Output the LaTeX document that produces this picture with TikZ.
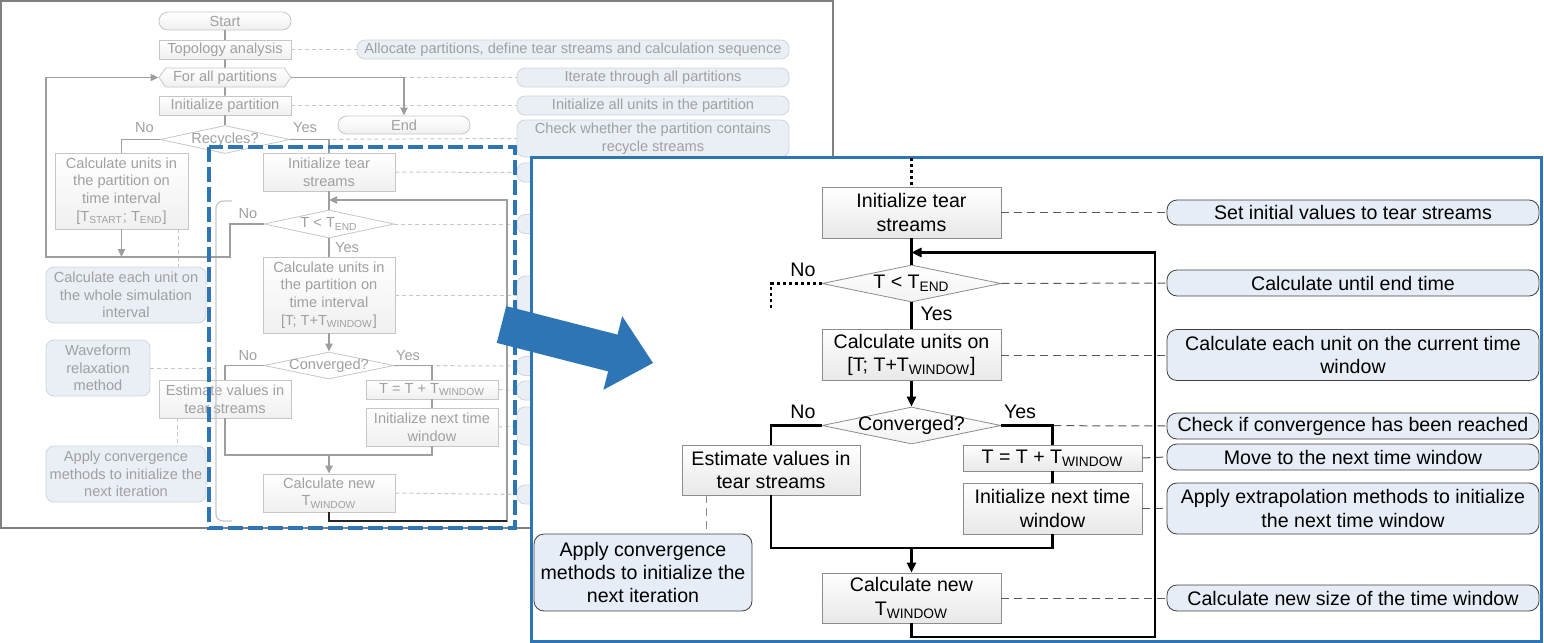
\documentclass[tikz,border=0pt]{standalone}
\usepackage{fontspec}
\setmainfont{Liberation Sans}
\usepackage{tikz}
\usetikzlibrary{calc}
\usetikzlibrary{arrows.meta}
\usetikzlibrary{shapes.geometric}
\usetikzlibrary{shapes.symbols}

\definecolor{tiblue}{RGB}{46,117,182}
\definecolor{notefill}{RGB}{231,237,247}
\definecolor{notedraw}{RGB}{64,64,64}
\definecolor{fadefill}{RGB}{234,238,245}
\definecolor{fadedraw}{RGB}{208,212,222}
\definecolor{fadetext}{RGB}{160,160,160}
\definecolor{fadeline}{RGB}{158,158,158}
\definecolor{fadebox}{RGB}{198,198,198}

\newcommand{\sbs}[1]{\textsubscript{#1}}

\tikzset{
  proc/.style={rectangle,draw=black!45,top color=white,bottom color=black!9,inner sep=0pt,align=center,minimum width=89.5pt,font=\fontsize{9.8}{11.7}\selectfont},
  cond/.style={diamond,aspect=1,draw=black!45,top color=white,bottom color=black!5,inner sep=0pt,minimum width=89.5pt,minimum height=18.5pt,font=\fontsize{9.8}{11.7}\selectfont},
  note/.style={rectangle,rounded corners=5pt,draw=notedraw,fill=notefill,inner sep=0pt,align=center,minimum width=186pt,font=\fontsize{9.8}{11.7}\selectfont},
  flow/.style={draw=black,line width=1.1pt},
  dots/.style={draw=black,line width=1.1pt,dash pattern=on 1.4pt off 1.6pt},
  tip/.style={-{Triangle[length=5pt,width=4.6pt]}},
  link/.style={draw=black!65,line width=0.5pt,dash pattern=on 4pt off 2.5pt},
  lbl/.style={inner sep=0pt,font=\fontsize{9.8}{11.7}\selectfont},
  fproc/.style={rectangle,draw=fadebox,top color=white,bottom color=black!6,inner sep=0pt,align=center,text=fadetext,minimum width=66pt,font=\fontsize{7.3}{8.8}\selectfont},
  fcond/.style={diamond,aspect=1,draw=fadebox,fill=white,inner sep=0pt,minimum width=65pt,minimum height=14pt,text=fadetext,font=\fontsize{7.3}{8.8}\selectfont},
  fpill/.style={fproc,rounded corners=4.4pt,minimum height=9pt},
  fhex/.style={signal,signal to=west and east,signal pointer angle=110,draw=fadebox,top color=white,bottom color=black!6,inner sep=0pt,minimum width=66pt,minimum height=9.5pt,text=fadetext,font=\fontsize{7.3}{8.8}\selectfont},
  fnote/.style={rectangle,rounded corners=4pt,draw=fadedraw,fill=fadefill,inner sep=0pt,align=center,text=fadetext,font=\fontsize{7.3}{8.8}\selectfont},
  fflow/.style={draw=fadeline,line width=0.8pt},
  ftip/.style={-{Triangle[length=4pt,width=3.6pt]}},
  flink/.style={draw=fadebox,line width=0.5pt,dash pattern=on 2pt off 1.5pt},
  flbl/.style={inner sep=0pt,text=fadetext,font=\fontsize{7.3}{8.8}\selectfont},
}

\begin{document}
\begin{tikzpicture}[x=0.5pt,y=-0.5pt]
\useasboundingbox (0,0) rectangle (1544,643);

% whole algorithm (faded)
\draw[black!50,line width=1pt] (1,1) rectangle (833,528);

\node[fpill] (start) at (225,21) {Start};
\node[fproc,minimum height=9.5pt] (topo) at (225,49.5) {Topology analysis};
\node[fhex] (allp) at (225,77.5) {For all partitions};
\node[fproc,minimum height=9.5pt] (initp) at (225,105.5) {Initialize partition};
\node[fcond] (recy) at (225,139.5) {\makebox[0pt]{Recycles?}};
\node[fpill] (stop) at (404,125) {End};
\node[fproc,minimum width=66.5pt,minimum height=38pt] (calcA) at (121.5,191) {Calculate units in\\the partition on\\time interval\\{}[T\sbs{START}; T\sbs{END}]};
\node[fproc,minimum height=19pt] (tearA) at (329,172) {Initialize tear\\streams};
\node[fcond] (tendA) at (329,224) {\makebox[0pt]{T < T\sbs{END}}};
\node[fproc,minimum height=38pt] (calcB) at (329,295) {Calculate units in\\the partition on\\time interval\\{}[T; T+T\sbs{WINDOW}]};
\node[fcond,minimum height=13.5pt] (convA) at (329,365.5) {\makebox[0pt]{Converged?}};
\node[fproc,minimum height=19pt] (estA) at (225,399) {Estimate values in\\tear streams};
\node[fproc,minimum height=9.5pt] (stepA) at (432,389.5) {T = T + T\sbs{WINDOW}};
\node[fproc,minimum height=19pt] (nextA) at (432,427) {Initialize next time\\window};
\node[fproc,minimum height=19pt] (newA) at (329,493) {Calculate new\\T\sbs{WINDOW}};

\node[fnote,minimum width=216pt,minimum height=9.5pt] (m1) at (573,49.5) {Allocate partitions, define tear streams and calculation sequence};
\node[fnote,minimum width=136pt,minimum height=9.5pt] (m2) at (653,77.5) {Iterate through all partitions};
\node[fnote,minimum width=136pt,minimum height=9.5pt] (m3) at (653,105.5) {Initialize all units in the partition};
\node[fnote,minimum width=136pt,minimum height=18.5pt] (m4) at (653,138.5) {Check whether the partition contains\\recycle streams};
\node[fnote,minimum width=136pt,minimum height=9.5pt] (h1) at (653,172.5) {};
\node[fnote,minimum width=136pt,minimum height=9.5pt] (h2) at (653,224) {};
\node[fnote,minimum width=136pt,minimum height=19pt] (h3) at (653,295) {};
\node[fnote,minimum width=136pt,minimum height=9.5pt] (h4) at (653,366) {};
\node[fnote,minimum width=136pt,minimum height=9.5pt] (h5) at (653,390.5) {};
\node[fnote,minimum width=136pt,minimum height=19pt] (h6) at (653,426) {};
\node[fnote,minimum width=136pt,minimum height=9.5pt] (h7) at (653,494.5) {};
\node[fnote,minimum width=80pt,minimum height=28pt] (mwhole) at (126,295) {Calculate each unit on\\the whole simulation\\interval};
\node[fnote,minimum width=52pt,minimum height=28pt] (mwave) at (98,368) {Waveform\\relaxation\\method};
\node[fnote,minimum width=80pt,minimum height=28pt] (mapply) at (126,474) {Apply convergence\\methods to initialize the\\next iteration};

\coordinate (grp) at (216,368);
\coordinate (backA) at (507,200);
\coordinate (cornA) at (507,521);
\coordinate (noA) at (230,257);
\coordinate (loopA) at (46,257);
\coordinate (mergeA) at (329,455);

\draw[flink] (topo.east) -- (m1.west);
\draw[flink] (allp.east) -- (m2.west);
\draw[flink] (initp.east) -- (m3.west);
\draw[flink] (recy.east) -- (m4.west);
\draw[flink] (tearA.east) -- (h1.west);
\draw[flink] (tendA.east) -- (h2.west);
\draw[flink] (calcB.east) -- (h3.west);
\draw[flink] (convA.east) -- (h4.west);
\draw[flink] (stepA.east) -- (h5.west);
\draw[flink] (nextA.east) -- (h6.west);
\draw[flink] (newA.east) -- (h7.west);
\draw[flink] ([xshift=-5pt]calcA.south east) -- ([xshift=-5pt]calcA.south east |- mwhole.north);
\draw[flink] ([xshift=9.5pt]estA.south west) -- ([xshift=9.5pt]estA.south west |- mapply.north);
\draw[flink] (mwave.east) -- (grp);

\draw[fadebox,line width=0.6pt,rounded corners=3.5pt] (232,201) -- (216,201) -- (216,521) -- (232,521);

\draw[fflow] (start) -- (topo);
\draw[fflow] (topo) -- (allp);
\draw[fflow] (allp) -- (initp);
\draw[fflow] (initp) -- (recy);
\draw[fflow,ftip] (allp.east) -| (stop.north);
\draw[fflow] (recy.west) -| (calcA.north);
\draw[fflow] (recy.east) -| (tearA.north);
\draw[fflow,ftip] (tendA.west) -| (noA) -- (loopA) |- (allp.west);
\draw[fflow,ftip] (calcA.south) -- (calcA.south |- loopA);
\draw[fflow] (tearA) -- (tendA);
\draw[fflow] (tendA) -- (calcB);
\draw[fflow,ftip] (calcB) -- (convA);
\draw[fflow] (convA.west) -| (estA.north);
\draw[fflow] (convA.east) -| (stepA.north);
\draw[fflow] (stepA) -- (nextA);
\draw[fflow] (estA.south) |- (mergeA) -| (nextA.south);
\draw[fflow,ftip] (mergeA) -- (newA);
\draw[fflow,ftip] (newA.south) |- (cornA) |- (tearA.south |- backA);
\draw[black!85,line width=0.8pt] (newA.south) |- (cornA);

\node[flbl] at (144.5,128) {No};
\node[flbl] at (305,128) {Yes};
\node[flbl] at (248,214) {No};
\node[flbl] at (347,247.5) {Yes};
\node[flbl] at (248,356) {No};
\node[flbl] at (408,356) {Yes};

% zoom frame
\draw[tiblue,line width=2pt,dash pattern=on 7.5pt off 2.5pt] (209,147) rectangle (515,528);

% detail of the time window loop
\draw[tiblue,line width=1.5pt,fill=white] (531,157) rectangle (1541,641);

\coordinate (intop) at (911.5,158);
\coordinate (nodot) at (771,308);
\coordinate (back) at (1155,252.5);
\coordinate (corner) at (1155,637);
\coordinate (merge) at (911.5,548);

\node[proc,minimum height=25.5pt] (tear) at (911.5,212.5) {Initialize tear\\streams};
\node[cond] (tend) at (911.5,283.5) {\makebox[0pt]{T < T\sbs{END}}};
\node[proc,minimum height=25.5pt] (calc) at (911.5,355) {Calculate units on\\{}[T; T+T\sbs{WINDOW}]};
\node[cond] (conv) at (911.5,425.5) {\makebox[0pt]{Converged?}};
\node[proc,minimum width=89pt,minimum height=25pt] (est) at (771,470) {Estimate values in\\tear streams};
\node[proc,minimum height=13pt] (step) at (1052.5,458) {T = T + T\sbs{WINDOW}};
\node[proc,minimum height=25.5pt] (next) at (1052.5,508.5) {Initialize next time\\window};
\node[proc,minimum height=25pt] (new) at (911.5,598) {Calculate new\\T\sbs{WINDOW}};

\node[note,minimum height=12.5pt] (n1) at (1353,212.5) {Set initial values to tear streams};
\node[note,minimum height=13pt] (n2) at (1353,283) {Calculate until end time};
\node[note,minimum height=25.5pt] (n3) at (1353,355) {Calculate each unit on the current time\\window};
\node[note,minimum height=13pt] (n4) at (1353,426) {Check if convergence has been reached};
\node[note,minimum height=13pt] (n5) at (1353,457) {Move to the next time window};
\node[note,minimum height=25.5pt] (n6) at (1353,508.5) {Apply extrapolation methods to initialize\\the next time window};
\node[note,minimum height=13pt] (n7) at (1353,598) {Calculate new size of the time window};
\node[note,minimum width=109pt,minimum height=38.5pt] (n8) at (643,572.5) {Apply convergence\\methods to initialize the\\next iteration};

\draw[link] (tear.east) -- (n1.west);
\draw[link] (tend.east) -- (n2.west);
\draw[link] (calc.east) -- (n3.west);
\draw[link] (conv.east) -- (n4.west);
\draw[link] (step.east) -- (n5.west);
\draw[link] (next.east) -- (n6.west);
\draw[link] (new.east) -- (n7.west);
\draw[link,draw=black!45] ([xshift=12.5pt]est.south west) -- ([xshift=12.5pt]est.south west |- n8.north);

\draw[dots] (intop) -- (tear.north);
\draw[flow] (tear) -- (tend);
\draw[dots] (tend.west) -| (nodot);
\draw[flow] (tend) -- (calc);
\draw[flow,tip] (calc) -- (conv);
\draw[flow] (conv.west) -| (est.north);
\draw[flow] (conv.east) -| (step.north);
\draw[flow] (step) -- (next);
\draw[flow] (est.south) |- (merge) -| (next.south);
\draw[flow,tip] (merge) -- (new);
\draw[flow,tip] (new.south) |- (corner) |- (tear.south |- back);

\node[lbl] at (803,270) {No};
\node[lbl] at (936.5,313.5) {Yes};
\node[lbl] at (803,411.5) {No};
\node[lbl] at (1020,411.5) {Yes};

% big arrow
\fill[tiblue] (506.2,306.1) -- (617.5,334.6) -- (622.2,316.2) -- (653,363) -- (603.4,389.8) -- (608.1,371.4) -- (496.8,342.9) -- cycle;
%\draw (0,0) grid (1544,643);
\end{tikzpicture}
\end{document}
